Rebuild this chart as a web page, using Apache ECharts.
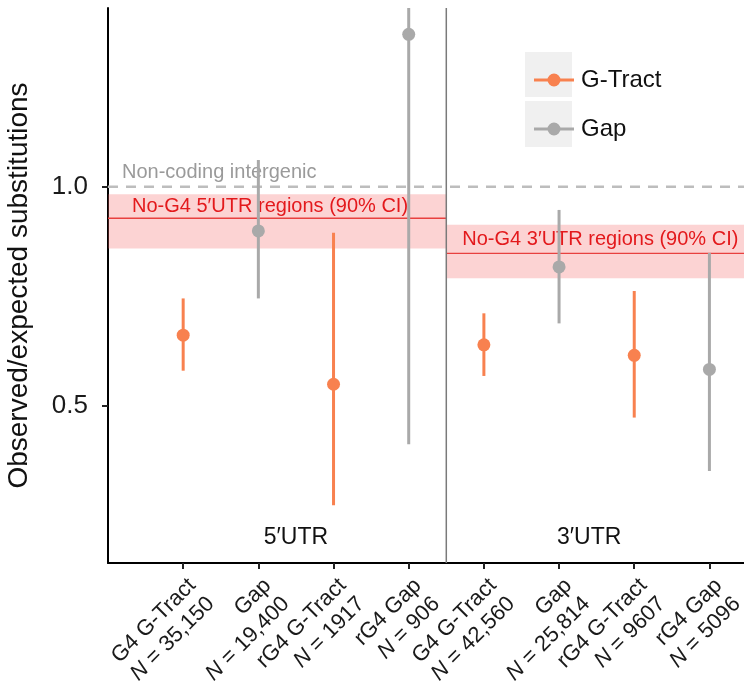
<!DOCTYPE html>
<html><head><meta charset="utf-8">
<script src="https://cdn.jsdelivr.net/npm/echarts@6/dist/echarts.min.js"></script>
<style>html,body{margin:0;padding:0;background:#fff}#c{width:744px;height:689px}</style>
</head><body><div id="c"></div>
<script>
// ---- data ----
const categories = ['G4 G-Tract', 'Gap', 'rG4 G-Tract', 'rG4 Gap', 'G4 G-Tract', 'Gap', 'rG4 G-Tract', 'rG4 Gap'];
const counts = ['35,150', '19,400', '1917', '906', '42,560', '25,814', '9607', '5096'];
const positions = [1, 2, 3, 4, 5, 6, 7, 8];
const gTractX = [1, 3, 5, 7];
const gTractMean = [0.661, 0.549, 0.639, 0.615];
const gTractLow = [0.580, 0.273, 0.568, 0.473];
const gTractHigh = [0.745, 0.895, 0.711, 0.762];
const gapX = [2, 4, 6, 8];
const gapMean = [0.899, 1.348, 0.817, 0.583];
const gapLow = [0.745, 0.412, 0.688, 0.351];
const gapHigh = [1.061, 1.50, 0.947, 0.849];
const bandNames = ['No-G4 5′UTR regions (90% CI)', 'No-G4 3′UTR regions (90% CI)'];
const bandStart = [0, 4.5];
const bandEnd = [4.5, 8.46];
const bandLow = [0.859, 0.791];
const bandMid = [0.928, 0.848];
const bandHigh = [0.983, 0.913];
const refValue = 1.0;
const refLabel = 'Non-coding intergenic';
const panelNames = ['5′UTR', '3′UTR'];
const panelX = [2.5, 6.4];
const dividerX = 4.5;
const yTicks = [0.5, 1.0];

// ---- styles ----
const ORANGE = '#f8814f';
const GREY = '#a9a9a9';
const FONT = 'Liberation Sans, Arial, Helvetica, sans-serif';
const bandTextOffset = [24, 16];

const errData = (xs, lo, hi) => xs.map((x, i) => [x, lo[i], hi[i]]);
const ptData = (xs, m) => xs.map((x, i) => [x, m[i]]);

function errRender(color) {
  return function (params, api) {
    const a = api.coord([api.value(0), api.value(1)]);
    const b = api.coord([api.value(0), api.value(2)]);
    return { type: 'line', shape: { x1: a[0], y1: a[1], x2: b[0], y2: b[1] },
      style: { stroke: color, lineWidth: 3 } };
  };
}

const chart = echarts.init(document.getElementById('c'), null, { renderer: 'canvas' });
const iconPath = 'path://M0,5 L40,5 L40,8 L0,8 Z M26.5,6.5 A6.5,6.5 0 1 1 13.5,6.5 A6.5,6.5 0 1 1 26.5,6.5 Z';

chart.setOption({
  animation: false,
  backgroundColor: '#ffffff',
  grid: { left: 108, top: 8, right: 0, bottom: 126, containLabel: false, outerBoundsMode: 'none' },
  xAxis: {
    type: 'value', min: 0, max: 8.46,
    splitLine: { show: false },
    axisLine: { show: true, onZero: false, lineStyle: { color: '#000', width: 2 } },
    axisTick: { show: true, customValues: positions, length: 6, lineStyle: { color: '#222', width: 2 } },
    axisLabel: {
      customValues: positions, rotate: 45, align: 'right', verticalAlign: 'top', margin: 10,
      fontFamily: FONT, fontSize: 22, color: '#1a1a1a', lineHeight: 26,
      formatter: v => categories[v - 1] + '\n{n|N} = ' + counts[v - 1],
      rich: { n: { fontStyle: 'italic', fontFamily: FONT, fontSize: 22, color: '#1a1a1a', lineHeight: 26 } }
    }
  },
  yAxis: {
    type: 'value', min: 0.141, max: 1.408,
    splitLine: { show: false },
    axisLine: { show: true, onZero: false, lineStyle: { color: '#000', width: 2 } },
    axisTick: { show: true, customValues: yTicks, length: 6, lineStyle: { color: '#222', width: 2 } },
    axisLabel: { customValues: yTicks, formatter: v => v.toFixed(1), fontFamily: FONT, fontSize: 26, color: '#1a1a1a', margin: 20 },
    name: 'Observed/expected substitutions', nameLocation: 'middle', nameGap: 75,
    nameTextStyle: { fontFamily: FONT, fontSize: 28, color: '#111' }
  },
  legend: {
    orient: 'vertical', left: 529, top: 62, itemWidth: 40, itemHeight: 13, itemGap: 23,
    textStyle: { fontFamily: FONT, fontSize: 24, color: '#111', lineHeight: 26, padding: [0, 0, 0, 2] },
    data: [{ name: 'G-Tract', icon: iconPath }, { name: 'Gap', icon: iconPath }],
    selectedMode: false
  },
  graphic: [
    { type: 'rect', z: 0, left: 525, top: 52, shape: { width: 47, height: 45 }, style: { fill: '#f0f0f0' } },
    { type: 'rect', z: 0, left: 525, top: 101, shape: { width: 47, height: 46 }, style: { fill: '#f0f0f0' } }
  ],
  series: [
    { // reference line
      type: 'custom', z: 1, silent: true, clip: true,
      data: [[refValue]],
      renderItem: (params, api) => {
        const cs = params.coordSys;
        const y = api.coord([0, api.value(0)])[1];
        return { type: 'group', children: [
          { type: 'line', shape: { x1: cs.x, y1: y, x2: cs.x + cs.width, y2: y },
            style: { stroke: '#bdbdbd', lineWidth: 2.5, lineDash: [10, 8] } },
          { type: 'text', style: { text: refLabel, x: cs.x + 14, y: y - 14, verticalAlign: 'middle',
            fill: '#9a9a9a', font: '20px ' + FONT } }
        ] };
      }
    },
    { // bands
      type: 'custom', z: 2, silent: true, clip: true,
      data: bandNames.map((n, i) => [bandStart[i], bandEnd[i], bandLow[i], bandHigh[i], bandMid[i], i]),
      renderItem: (params, api) => {
        const tl = api.coord([api.value(0), api.value(3)]);
        const br = api.coord([api.value(1), api.value(2)]);
        const m = api.coord([api.value(0), api.value(4)]);
        const i = api.value(5);
        return { type: 'group', children: [
          { type: 'rect', shape: { x: tl[0], y: tl[1], width: br[0] - tl[0], height: br[1] - tl[1] },
            style: { fill: 'rgba(246,96,96,0.28)' } },
          { type: 'line', shape: { x1: tl[0], y1: m[1], x2: br[0], y2: m[1] },
            style: { stroke: '#e8403f', lineWidth: 1.3 } },
          { type: 'text', style: { text: bandNames[i], x: tl[0] + bandTextOffset[i], y: (tl[1] + m[1]) / 2,
            verticalAlign: 'middle', fill: '#e3191c', font: '20px ' + FONT } }
        ] };
      }
    },
    { // divider
      type: 'custom', z: 3, silent: true, clip: true,
      data: [[dividerX]],
      renderItem: (params, api) => {
        const cs = params.coordSys;
        const x = api.coord([api.value(0), 1])[0];
        return { type: 'line', shape: { x1: x, y1: cs.y, x2: x, y2: cs.y + cs.height },
          style: { stroke: '#7a7a7a', lineWidth: 1.5 } };
      }
    },
    { // panel labels
      type: 'custom', z: 3, silent: true,
      data: panelNames.map((n, i) => [panelX[i], i]),
      renderItem: (params, api) => {
        const cs = params.coordSys;
        const x = api.coord([api.value(0), 1])[0];
        return { type: 'text', style: { text: panelNames[api.value(1)], x: x, y: cs.y + cs.height - 25,
          align: 'center', verticalAlign: 'middle', fill: '#111', font: '23px ' + FONT } };
      }
    },
    { type: 'custom', name: 'G-Tract', z: 4, silent: true, clip: true, data: errData(gTractX, gTractLow, gTractHigh), renderItem: errRender(ORANGE), itemStyle: { color: ORANGE } },
    { type: 'custom', name: 'Gap', z: 4, silent: true, clip: true, data: errData(gapX, gapLow, gapHigh), renderItem: errRender(GREY), itemStyle: { color: GREY } },
    { type: 'scatter', name: 'G-Tract', z: 5, symbol: 'circle', symbolSize: 13, data: ptData(gTractX, gTractMean), itemStyle: { color: ORANGE, opacity: 1 } },
    { type: 'scatter', name: 'Gap', z: 5, symbol: 'circle', symbolSize: 13, data: ptData(gapX, gapMean), itemStyle: { color: GREY, opacity: 1 } }
  ]
});
</script></body></html>
